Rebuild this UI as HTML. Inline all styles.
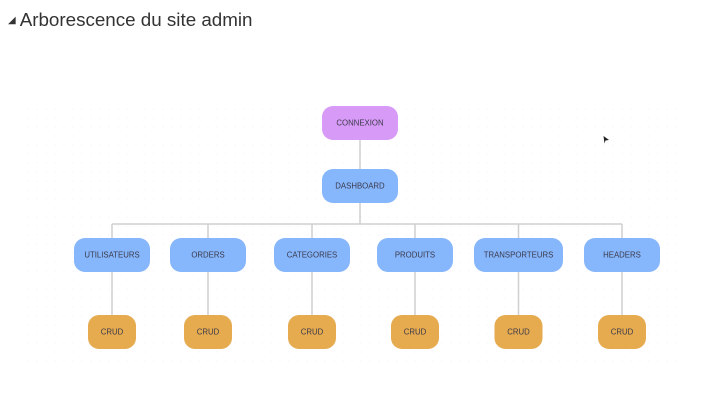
<!DOCTYPE html>
<html><head><style>
html,body{margin:0;padding:0;background:#fff;width:701px;height:404px;overflow:hidden;}
.t{position:absolute;left:8px;top:9px;font-family:"Liberation Sans",sans-serif;font-size:18.8px;color:#333;}
.t span{font-size:10px;position:relative;top:-3px;margin-right:4px;}
svg{position:absolute;left:0;top:0;}
text{font-family:"Liberation Sans",sans-serif;font-size:7.8px;fill:#3a3a4a;text-anchor:middle;dominant-baseline:central;}
</style></head><body>
<div class="t"><span>◢</span>Arborescence du site admin</div>
<svg width="701" height="404">
<defs><pattern id="d" width="9" height="9" patternUnits="userSpaceOnUse"><circle cx="1" cy="1" r="0.6" fill="#efefef"/></pattern></defs>
<rect x="24" y="104" width="656" height="262" fill="url(#d)"/>
<g stroke="#cfcfcf" stroke-width="1.5" fill="none">
<line x1="360" y1="140" x2="360" y2="169"/>
<line x1="360" y1="203" x2="360" y2="224"/>
<line x1="112" y1="224" x2="622" y2="224"/>
<line x1="112" y1="224" x2="112" y2="315"/>
<line x1="208" y1="224" x2="208" y2="315"/>
<line x1="312" y1="224" x2="312" y2="315"/>
<line x1="415" y1="224" x2="415" y2="315"/>
<line x1="518.5" y1="224" x2="518.5" y2="315"/>
<line x1="622" y1="224" x2="622" y2="315"/>
</g>
<rect x="322" y="106" width="76" height="34" rx="11" fill="#d89af7"/><text x="360" y="123">CONNEXION</text>
<rect x="322" y="169" width="76" height="34" rx="11" fill="#86b6fc"/><text x="360" y="186">DASHBOARD</text>
<g fill="#86b6fc">
<rect x="74" y="238" width="76" height="34" rx="11"/>
<rect x="170" y="238" width="76" height="34" rx="11"/>
<rect x="274" y="238" width="76" height="34" rx="11"/>
<rect x="377" y="238" width="76" height="34" rx="11"/>
<rect x="474" y="238" width="89" height="34" rx="11"/>
<rect x="584" y="238" width="76" height="34" rx="11"/>
</g>
<text x="112" y="255">UTILISATEURS</text>
<text x="208" y="255">ORDERS</text>
<text x="312" y="255">CATEGORIES</text>
<text x="415" y="255">PRODUITS</text>
<text x="518.5" y="255">TRANSPORTEURS</text>
<text x="622" y="255">HEADERS</text>
<g fill="#e6aa4f">
<rect x="88" y="315" width="48" height="34" rx="11"/>
<rect x="184" y="315" width="48" height="34" rx="11"/>
<rect x="288" y="315" width="48" height="34" rx="11"/>
<rect x="391" y="315" width="48" height="34" rx="11"/>
<rect x="494.5" y="315" width="48" height="34" rx="11"/>
<rect x="598" y="315" width="48" height="34" rx="11"/>
</g>
<text x="112" y="332">CRUD</text>
<text x="208" y="332">CRUD</text>
<text x="312" y="332">CRUD</text>
<text x="415" y="332">CRUD</text>
<text x="518.5" y="332">CRUD</text>
<text x="622" y="332">CRUD</text>
<path d="M603.5 136 L609 140 L605.5 140.5 L604.5 143.5 Z" fill="#222"/>
</svg>
</body></html>
